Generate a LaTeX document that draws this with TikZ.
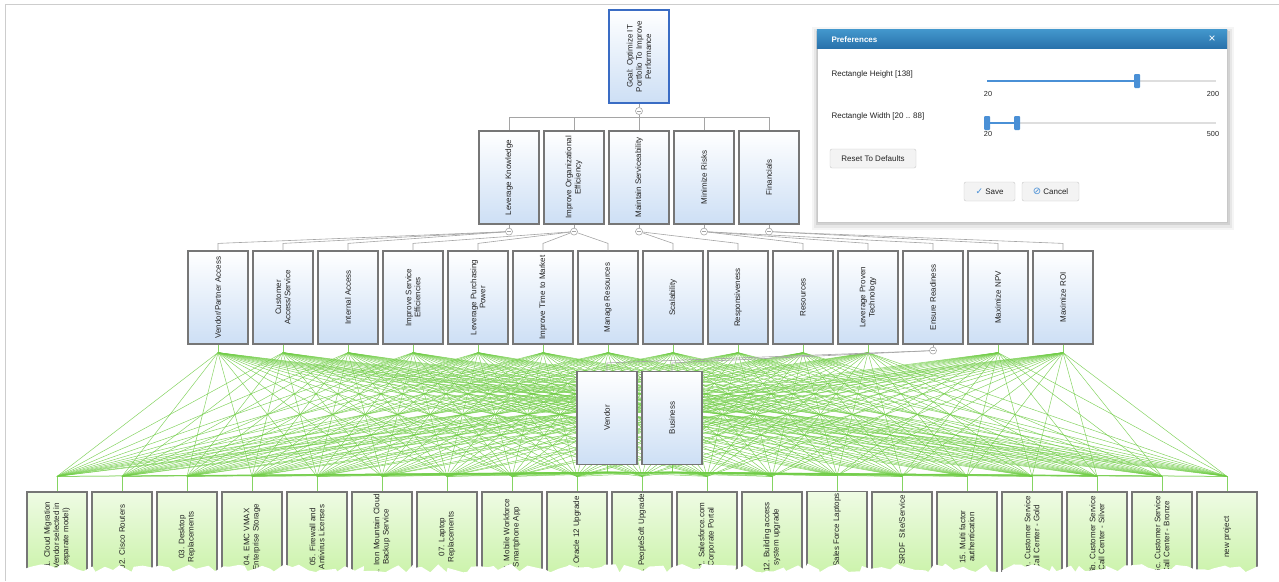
\documentclass[tikz,border=0pt]{standalone}
\usepackage{fontspec}
\setmainfont{Liberation Sans}
\newfontfamily\symfont{DejaVu Sans}
\usetikzlibrary{calc,backgrounds,decorations.pathmorphing}
\definecolor{BoxGray}{RGB}{118,118,118}
\definecolor{LinkGray}{RGB}{165,165,165}
\definecolor{CritBlue}{RGB}{205,223,245}
\definecolor{GoalBlue}{RGB}{58,108,196}
\definecolor{ProjGreen}{RGB}{200,242,165}
\definecolor{MeshGreen}{RGB}{112,204,70}
\definecolor{HeadBlue}{RGB}{66,150,204}
\definecolor{HeadDark}{RGB}{40,112,170}
\definecolor{SlideBlue}{RGB}{74,144,214}
\definecolor{TrackGray}{RGB}{222,222,222}
\definecolor{BtnGray}{RGB}{243,243,243}
\definecolor{BtnEdge}{RGB}{200,200,200}
\definecolor{FrameGray}{RGB}{205,205,205}
\definecolor{InkGray}{RGB}{35,35,35}

\begin{document}
\begin{tikzpicture}[
  x=1pt, y=-1pt,
  ui/.style={font=\fontsize{8}{9.2}\selectfont, text=InkGray},
  crit/.style={ui, draw=BoxGray, line width=1.2pt, rotate=90, minimum width=93pt, minimum height=60pt,
    inner sep=2pt, align=center, top color=white, bottom color=CritBlue},
  goal/.style={crit, draw=GoalBlue, line width=2pt},
  proj/.style={crit, minimum width=90pt, top color=ProjGreen!30, bottom color=ProjGreen},
  tog/.style={circle, draw=LinkGray, fill=white, line width=0.6pt, minimum size=7pt, inner sep=0pt,
    path picture={\draw[LinkGray, line width=0.6pt] ([xshift=-2pt]path picture bounding box.center) -- ([xshift=2pt]path picture bounding box.center);}},
  conn/.style={LinkGray, line width=0.6pt},
  mesh/.style={MeshGreen, line width=0.5pt, opacity=0.85},
  track/.style={TrackGray, line width=1.6pt},
  fillbar/.style={SlideBlue, line width=1.6pt},
  knob/.style={draw=none, fill=SlideBlue, rounded corners=1pt, minimum width=6pt, minimum height=14pt, inner sep=0pt},
  btn/.style={ui, draw=BtnEdge, fill=BtnGray, rounded corners=2pt, minimum height=19pt, inner sep=0pt},
  small/.style={font=\fontsize{7.3}{8.4}\selectfont, text=InkGray}
]
  \useasboundingbox (0,0) rectangle (1279,581);

  % goal and the five objectives
  \node[goal] (goal) at (639,56.5) {Goal: Optimize IT\\Portfolio To Improve\\Performance};
  \foreach \t [count=\i] in {Leverage Knowledge, {Improve Organizational\\Efficiency}, Maintain Serviceability, Minimize Risks, Financials}
    \node[crit] (l\i) at (444+65*\i,177.5) {\t};

  % criteria
  \foreach \t [count=\i] in {Vendor/Partner Access, {Customer\\Access/Service}, Internal Access, {Improve Service\\Efficiencies},
      {Leverage Purchasing\\Power}, Improve Time to Market, Manage Resources, Scalability, Responsiveness, Resources,
      {Leverage Proven\\Technology}, Ensure Readiness, Maximize NPV, Maximize ROI}
    \node[crit] (c\i) at (153+65*\i,297.5) {\t};
  \node[crit] (vend) at (607,418) {Vendor};
  \node[crit] (busi) at (672,418) {Business};

  % projects
  \foreach \t [count=\j] in {{01. Cloud Migration\\(Vendor selected in\\separate model)}, 02. Cisco Routers, {03. Desktop\\Replacements},
      {04. EMC VMAX\\Enterprise Storage}, {05. Firewall and\\Antivirus Licenses}, {06. Iron Mountain Cloud\\Backup Service},
      {07. Laptop\\Replacements}, {08. Mobile Workforce\\Smartphone App}, 09. Oracle 12 Upgrade, 10. PeopleSoft Upgrade,
      {11. Salesforce.com\\Corporate Portal}, {12. Building access\\system upgrade}, 13. Sales Force Laptops,
      14. SRDF\ \ Site/Service, {15. Multi factor\\authentication}, {16a. Customer Service\\Call Center - Gold},
      {16b. Customer Service\\Call Center - Silver}, {16c. Customer Service\\Call Center - Bronze}, new project}
    \node[proj] (p\j) at (-8+65*\j,537) {\t};

  % gray tree
  \node[tog] (gc) at ([yshift=-7pt]goal.west) {};
  \draw[conn] (goal.west) -- (gc);
  \coordinate (bus) at ([yshift=13pt]l3.east);
  \draw[conn] (gc) -- (bus);
  \draw[conn] (l1.east |- bus) -- (l5.east |- bus);
  \foreach \i in {1,...,5}{
    \draw[conn] (l\i.east |- bus) -- (l\i.east);
    \node[tog] (o\i) at ([yshift=-7pt]l\i.west) {};
    \draw[conn] (l\i.west) -- (o\i);
  }
  \foreach \p/\c in {1/1,1/2,1/3,2/4,2/5,2/6,2/7,3/8,3/9,4/10,4/11,4/12,5/13,5/14}
    \draw[conn] (o\p) -- ([yshift=7pt]c\c.east) -- (c\c.east);
  \node[tog] (er) at ([yshift=-6pt]c12.west) {};
  \draw[conn] (c12.west) -- (er);
  \draw[conn] (er) -- ([yshift=8pt]vend.east) -- (vend.east);
  \draw[conn] (er) -- ([yshift=8pt]busi.east) -- (busi.east);

  % green links criteria -> projects
  \begin{pgfonlayer}{background}
    \foreach \i in {1,...,11,13,14}{
      \coordinate (s\i) at ([yshift=-8pt]c\i.west);
      \draw[mesh] (c\i.west) -- (s\i);
    }
    \coordinate (s15) at ([yshift=-7pt]vend.west);
    \coordinate (s16) at ([yshift=-7pt]busi.west);
    \draw[mesh] (vend.west) -- (s15);
    \draw[mesh] (busi.west) -- (s16);
    \foreach \j in {1,...,19}{
      \coordinate (t\j) at ([yshift=15pt]p\j.east);
      \draw[mesh] (t\j) -- (p\j.east);
    }
    \foreach \i in {1,...,11,13,14,15,16}
      \foreach \j in {1,...,19}
        \draw[mesh] (s\i) -- (t\j);
  \end{pgfonlayer}

  % torn bottom edge
  \pgfmathsetseed{11}
  \fill[white, decorate, decoration={random steps, segment length=7pt, amplitude=4.5pt}]
    (-10,568) -- (1290,568) -- (1290,598) -- (-10,598) -- cycle;
  \draw[FrameGray, line width=0.8pt] (5,581) -- (5,4) -- (1279,4);

  % preferences dialog
  \fill[black, opacity=0.04] (812,27) rectangle (1234,230);
  \fill[black, opacity=0.06] (814,29) rectangle (1232,228);
  \fill[black, opacity=0.09] (816,31) rectangle (1230,225);
  \node[draw=BtnEdge, fill=white, minimum width=410pt, minimum height=192pt, inner sep=0pt] (dlg) at (1022,126) {};
  \fill[top color=HeadBlue, bottom color=HeadDark] (dlg.north west) rectangle ([yshift=-19pt]dlg.north east);
  \node[anchor=west, text=white, font=\bfseries\fontsize{8}{9.5}\selectfont] (title) at (828,39.5) {Preferences};
  \node[text=white, font=\fontsize{12}{12}\selectfont] (close) at (1212,39.5) {×};

  \node[ui, anchor=west] (hlab) at (828,74) {Rectangle Height [138]};
  \draw[track] (987,81) -- (1216,81);
  \draw[fillbar] (987,81) -- (1137,81);
  \node[knob] (hk) at (1137,81) {};
  \node[small] (hmin) at (988,94) {20};
  \node[small] (hmax) at (1213,94) {200};

  \node[ui, anchor=west] (wlab) at (828,116) {Rectangle Width [20 .. 88]};
  \draw[track] (987,123) -- (1216,123);
  \draw[fillbar] (987,123) -- (1017,123);
  \node[knob] (wk1) at (987,123) {};
  \node[knob] (wk2) at (1017,123) {};
  \node[small] (wmin) at (988,134) {20};
  \node[small] (wmax) at (1213,134) {500};

  \node[btn, minimum width=86pt] (reset) at (873,158.5) {Reset To Defaults};
  \node[btn, minimum width=51pt] (save) at (989.5,191.5) {{\color{SlideBlue}\symfont\fontsize{9}{9}\selectfont ✓}\ Save};
  \node[btn, minimum width=57pt] (cancel) at (1050.5,191.5) {{\color{SlideBlue}\symfont\fontsize{10}{10}\selectfont ⊘}\ Cancel};
\end{tikzpicture}
\end{document}
